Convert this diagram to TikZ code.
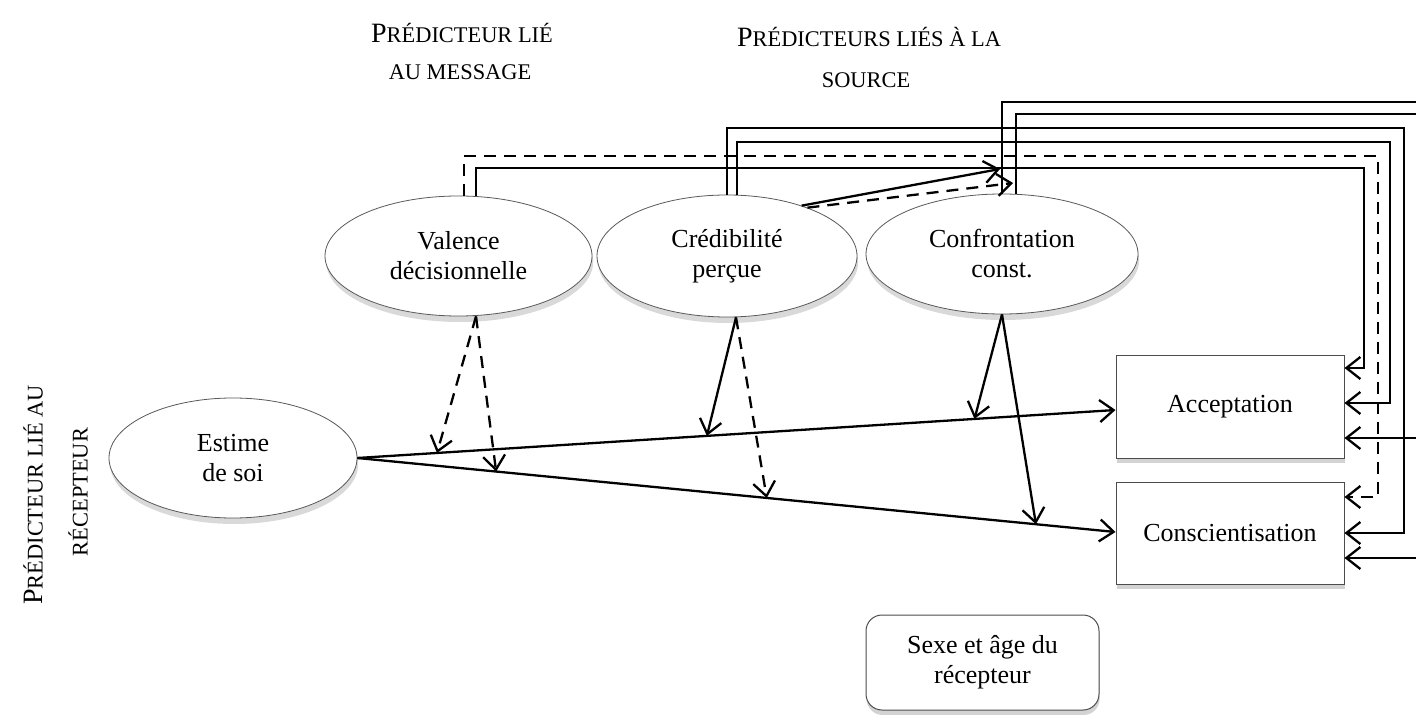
\documentclass[tikz,border=0pt]{standalone}
\usepackage{fontspec}
\setmainfont{Liberation Serif}
\usetikzlibrary{arrows.meta,shapes.geometric,shadows,calc}
\newcommand{\smc}[1]{{\fontsize{11.2}{13}\selectfont #1}}
\tikzset{
  ln/.style={line width=1.15pt},
  dsh/.style={line width=1.15pt, dash pattern=on 6pt off 4pt},
  arr/.style={-{Straight Barb[length=7pt,width=11pt]}},
  ell/.style={ellipse, draw=black!65, line width=0.4pt, fill=white, inner sep=0pt,
    align=center, font=\fontsize{13}{15}\selectfont,
    drop shadow={shadow xshift=0.6pt, shadow yshift=-3pt, opacity=0.3}},
  box/.style={rectangle, draw=black!70, line width=0.5pt, fill=white, inner sep=0pt,
    align=center, font=\fontsize{13}{15}\selectfont,
    minimum width=114pt, minimum height=51pt,
    drop shadow={shadow xshift=0.3pt, shadow yshift=-2.5pt, opacity=0.35}},
  rbox/.style={box, rounded corners=8pt, minimum width=116.5pt, minimum height=47.5pt},
  lab/.style={font=\fontsize{14}{17}\selectfont, inner sep=0pt}
}
\begin{document}
\begin{tikzpicture}[x=0.5pt,y=-0.5pt]
\useasboundingbox (0,0) rectangle (1416,715);
\clip (0,0) rectangle (1416,715);

% labels
\node[lab] (l1) at (462,33) {P\smc{RÉDICTEUR LIÉ}};
\node[lab] (l2) at (460,72) {\smc{AU MESSAGE}};
\node[lab] (l3) at (869,37) {P\smc{RÉDICTEURS LIÉS À LA}};
\node[lab] (l4) at (866,80) {\smc{SOURCE}};
\node[lab, rotate=90] (l5) at (33,495) {P\smc{RÉDICTEUR LIÉ AU}};
\node[lab, rotate=90] (l6) at (78,492) {\smc{RÉCEPTEUR}};

% nodes
\node[ell, minimum width=133.5pt, minimum height=60pt] (val) at (458.5,256) {Valence\\décisionnelle};
\node[ell, minimum width=130pt, minimum height=61pt] (cred) at (727,256) {Crédibilité\\perçue};
\node[ell, minimum width=136pt, minimum height=60pt] (conf) at (1002,254) {Confrontation\\const.};
\node[ell, minimum width=124pt, minimum height=60pt] (est) at (233,458) {Estime\\de soi};
\node[box] (acc) at (1230,407) {Acceptation};
\node[box] (con) at (1230,533) {Conscientisation};
\node[rbox] (sex) at (982.5,662.5) {Sexe et âge du\\récepteur};

% top loops
\draw[dsh,arr] ($(val.north)+(5.5,0)$) |- (1378,156) |- ($(con.east)+(0,-36)$);
\draw[ln,arr] ($(val.north)+(17.5,0)$) |- (1364,168) |- ($(acc.east)+(0,-39)$);
\draw[ln,arr] (cred.north) |- (1404,128) |- (con.east);
\draw[ln,arr] ($(cred.north)+(10,0)$) |- (1390,142) |- ($(acc.east)+(0,-4)$);
\draw[ln,arr] (conf.north) |- (1440,102) |- ($(con.east)+(0,25)$);
\draw[ln,arr] ($(conf.north)+(14,0)$) |- (1428,114) |- ($(acc.east)+(0,31)$);

% credibility to confrontation paths
\coordinate (t1) at (1000,169);
\coordinate (t2) at (1013,183);
\draw[ln,arr] (cred.34) -- (t1);
\draw[dsh,arr] (cred.31) -- (t2);

% estime paths
\coordinate (ea) at ($(acc.west)+(0,3)$);
\coordinate (ec) at ($(con.west)+(0,-1)$);
\draw[ln,arr] (est.east) -- (ea);
\draw[ln,arr] (est.east) -- (ec);

% moderation arrows
\draw[dsh,arr] ($(val.south)+(17.5,0)$) -- ($(est.east)!0.105!(ea)$);
\draw[dsh,arr] ($(val.south)+(17.5,0)$) -- ($(est.east)!0.183!(ec)$);
\draw[ln,arr] ($(cred.south)+(9,0)$) -- ($(est.east)!0.461!(ea)$);
\draw[dsh,arr] ($(cred.south)+(9,0)$) -- ($(est.east)!0.540!(ec)$);
\draw[ln,arr] (conf.south) -- ($(est.east)!0.814!(ea)$);
\draw[ln,arr] (conf.south) -- ($(est.east)!0.895!(ec)$);
\end{tikzpicture}
\end{document}
